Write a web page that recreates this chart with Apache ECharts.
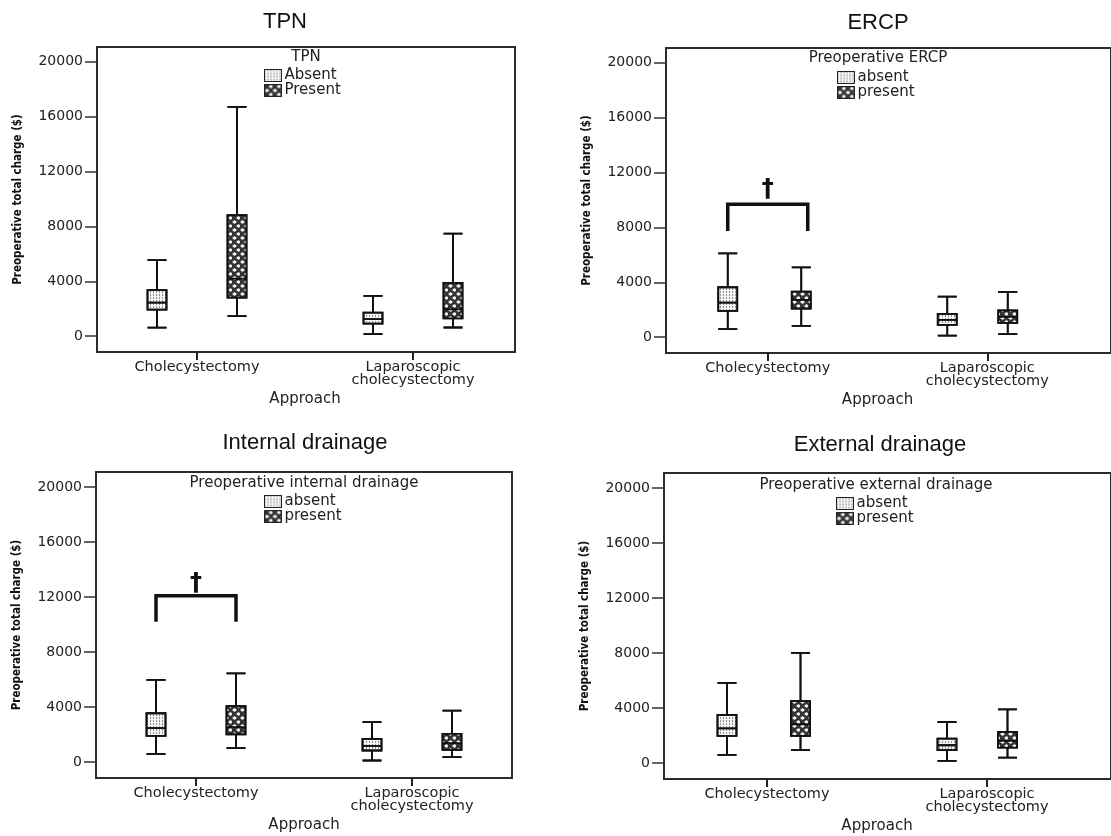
<!DOCTYPE html>
<html><head><meta charset="utf-8">
<script src="https://cdn.jsdelivr.net/npm/echarts@6/dist/echarts.min.js"></script>
<style>html,body{margin:0;background:#fff}#c{width:1111px;height:836px}</style>
</head><body><div id="c"></div>
<script>
// ---------- DATA ----------
const categories = ['Cholecystectomy', 'Laparoscopic\ncholecystectomy'];
const yTickValues = [0, 4000, 8000, 12000, 16000, 20000];
const panelTitles = ['TPN', 'ERCP', 'Internal drainage', 'External drainage'];
const legendTitles = ['TPN', 'Preoperative ERCP', 'Preoperative internal drainage', 'Preoperative external drainage'];
const legendNames = [['Absent', 'Present'], ['absent', 'present'], ['absent', 'present'], ['absent', 'present']];
const xAxisName = 'Approach';
const yAxisName = 'Preoperative total charge ($)';
// each box: [lower whisker, Q1, median, Q3, upper whisker]
const tpnAbsent = [[632, 1944, 2454, 3353, 5541], [146, 923, 1239, 1725, 2940]];
const tpnPresent = [[1458, 2819, 4204, 8821, 16719], [635, 1300, 1950, 3888, 7485]];
const ercpAbsent = [[583, 1917, 2524, 3641, 6117], [121, 898, 1262, 1699, 2961]];
const ercpPresent = [[825, 2087, 2718, 3325, 5097], [230, 1040, 1480, 1950, 3310]];
const internalAbsent = [[605, 1910, 2467, 3555, 5973], [121, 846, 1185, 1693, 2902]];
const internalPresent = [[1016, 2030, 2550, 4070, 6457], [363, 895, 1378, 2055, 3748]];
const externalAbsent = [[603, 1978, 2533, 3498, 5838], [169, 941, 1303, 1785, 2991]];
const externalPresent = [[941, 1978, 2823, 4511, 8009], [410, 1134, 1616, 2268, 3908]];
// significance bracket: [category index, leg bottom, bracket top, dagger position]
const tpnBracket = [];
const ercpBracket = [[0, 7743, 9684, 11214]];
const internalBracket = [[0, 10206, 12092, 13375]];
const externalBracket = [];

const panelData = [
  [tpnAbsent, tpnPresent, tpnBracket],
  [ercpAbsent, ercpPresent, ercpBracket],
  [internalAbsent, internalPresent, internalBracket],
  [externalAbsent, externalPresent, externalBracket]
];

// ---------- LAYOUT ----------
const Y_MIN = -1150, Y_MAX = 21080;
const OFFSET = 40;
const layouts = [
  {frame: [97, 47, 418, 305], catLeft: 89, catWidth: 432, titleX: 285, titleY: 22, legTitleX: 306, legTitleY: 57, legLeft: 264, legTop: 68},
  {frame: [666, 48, 470, 305], catLeft: 658, catWidth: 439, titleX: 878, titleY: 23, legTitleX: 878, legTitleY: 58, legLeft: 837, legTop: 70},
  {frame: [96, 472, 416, 306], catLeft: 88, catWidth: 432, titleX: 305, titleY: 443, legTitleX: 304, legTitleY: 483, legLeft: 264, legTop: 494},
  {frame: [664, 473, 470, 306], catLeft: 657, catWidth: 440, titleX: 880, titleY: 445, legTitleX: 876, legTitleY: 485, legLeft: 836, legTop: 496}
];
const FONT = 'DejaVu Sans';
const ABSENT_FILL = '#f6f6f6', PRESENT_FILL = '#333333';
const ABSENT_DECAL = {symbol: 'rect', symbolSize: 1, dashArrayX: [1, 2], dashArrayY: [2, 1], color: 'rgba(60,60,60,0.55)', rotation: 0};
const PRESENT_DECAL = {symbol: 'diamond', symbolSize: 1, dashArrayX: [[5, 3], [0, 4, 5, -1]], dashArrayY: [4, 0], color: '#f4f4f4', rotation: 0};
const DAGGER_SHIFT = 6;

function bracketRenderer(params, api) {
  const cat = api.value(0);
  const pt = api.coord([cat, api.value(2)]);
  const yb = api.coord([cat, api.value(1)])[1];
  const yd = api.coord([cat, api.value(3)])[1];
  const cx = pt[0], yt = pt[1];
  return {type: 'group', children: [
    {type: 'polyline', shape: {points: [[cx - OFFSET, yb], [cx - OFFSET, yt], [cx + OFFSET, yt], [cx + OFFSET, yb]]},
     style: {stroke: '#111', lineWidth: 3.5, fill: null}},
    {type: 'text', x: cx, y: yd + DAGGER_SHIFT, style: {text: '\u2020', fontSize: 24, fontWeight: 'bold', fontFamily: FONT, fill: '#111', align: 'center', verticalAlign: 'middle'}}
  ]};
}

const option = {backgroundColor: '#fff', animation: false, title: [], legend: [], grid: [], xAxis: [], yAxis: [], series: []};

layouts.forEach((L, i) => {
  const [fl, ft, fw, fh] = L.frame;
  const g0 = option.grid.length;
  option.grid.push({left: fl, top: ft, width: fw, height: fh, show: true, borderColor: '#2b2b2b', borderWidth: 2, backgroundColor: '#fff'});
  option.grid.push({left: L.catLeft, top: ft, width: L.catWidth, height: fh});
  option.grid.push({left: L.catLeft - OFFSET, top: ft, width: L.catWidth, height: fh});
  option.grid.push({left: L.catLeft + OFFSET, top: ft, width: L.catWidth, height: fh});
  for (let k = 0; k < 4; k++) {
    const x = {gridIndex: g0 + k, type: 'category', data: categories, show: k === 1, position: 'bottom', axisLine: {onZero: false, show: false}};
    if (k === 1) {
      Object.assign(x, {
        axisTick: {show: true, alignWithLabel: true, length: 8, lineStyle: {color: '#222', width: 2}},
        axisLabel: {interval: 0, margin: 9, fontSize: 14.5, lineHeight: 13, fontFamily: FONT, color: '#222'},
        name: xAxisName, nameLocation: 'middle', nameGap: 40,
        nameTextStyle: {fontSize: 15, fontFamily: FONT, color: '#222'}
      });
    }
    option.xAxis.push(x);
    const y = {gridIndex: g0 + k, type: 'value', min: Y_MIN, max: Y_MAX, show: k === 0, splitLine: {show: false}};
    if (k === 0) {
      Object.assign(y, {
        axisLine: {show: false},
        axisTick: {show: true, length: 12, customValues: yTickValues, lineStyle: {color: '#333', width: 1.5}},
        axisLabel: {customValues: yTickValues, formatter: v => String(v), margin: 14, fontSize: 14, fontFamily: FONT, color: '#222'},
        name: yAxisName, nameLocation: 'middle', nameGap: 73, nameRotate: 90,
        nameTextStyle: {fontSize: 11.5, fontWeight: 'bold', fontFamily: "'Liberation Sans Narrow', 'DejaVu Sans Condensed', sans-serif", color: '#111'}
      });
    }
    option.yAxis.push(y);
  }
  const [absent, present, bracket] = panelData[i];
  option.series.push({
    type: 'boxplot', name: legendNames[i][0], xAxisIndex: g0 + 2, yAxisIndex: g0 + 2, data: absent,
    boxWidth: [19, 19], itemStyle: {color: ABSENT_FILL, borderColor: '#111', borderWidth: 1.8, decal: ABSENT_DECAL},
    emphasis: {disabled: true}
  });
  option.series.push({
    type: 'boxplot', name: legendNames[i][1], xAxisIndex: g0 + 3, yAxisIndex: g0 + 3, data: present,
    boxWidth: [19, 19], itemStyle: {color: PRESENT_FILL, borderColor: '#111', borderWidth: 1.8, decal: PRESENT_DECAL},
    emphasis: {disabled: true}
  });
  if (bracket.length) {
    option.series.push({type: 'custom', xAxisIndex: g0 + 1, yAxisIndex: g0 + 1, data: bracket, renderItem: bracketRenderer, silent: true, z: 5});
  }
  option.title.push({text: panelTitles[i], left: L.titleX, top: L.titleY, textAlign: 'center', textVerticalAlign: 'middle', padding: 0,
    textStyle: {fontSize: 22, fontWeight: 'normal', fontFamily: 'Liberation Sans', color: '#111'}});
  option.title.push({text: legendTitles[i], left: L.legTitleX, top: L.legTitleY, textAlign: 'center', textVerticalAlign: 'middle', padding: 0,
    textStyle: {fontSize: 15, fontWeight: 'normal', fontFamily: FONT, color: '#222'}});
  option.legend.push({
    orient: 'vertical', left: L.legLeft, top: L.legTop, padding: 0, icon: 'rect',
    data: [
      {name: legendNames[i][0], itemStyle: {color: ABSENT_FILL, decal: ABSENT_DECAL, borderColor: '#222', borderWidth: 1}},
      {name: legendNames[i][1], itemStyle: {color: PRESENT_FILL, decal: PRESENT_DECAL, borderColor: '#222', borderWidth: 1}}
    ],
    itemWidth: 17, itemHeight: 12, itemGap: 0, selectedMode: false,
    textStyle: {fontSize: 15, lineHeight: 14, fontFamily: FONT, color: '#222', padding: [0, 0, 0, -2]}
  });
});

const chart = echarts.init(document.getElementById('c'), null, {renderer: 'canvas'});
chart.setOption(option);
</script></body></html>
